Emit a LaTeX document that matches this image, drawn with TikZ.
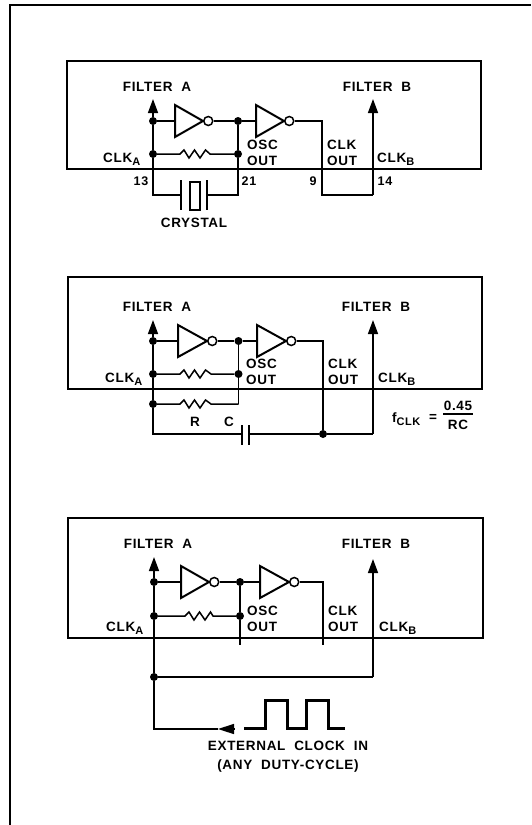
\documentclass[tikz,border=0pt]{standalone}
\usepackage{fontspec}
\setmainfont{Liberation Sans}[LetterSpace=5,WordSpace=2]
\usetikzlibrary{arrows.meta}
\usetikzlibrary{calc}
\tikzset{
  wire/.style={line width=1.5pt},
  feed/.style={wire,-{Triangle[length=14pt,width=10pt]}},
  dot/.style={circle,fill=black,inner sep=0pt,minimum size=8pt},
  bubble/.style={circle,draw,line width=1.5pt,fill=white,inner sep=0pt,minimum size=9pt},
  panel/.style={line width=2pt},
  lbl/.style={font=\bfseries\fontsize{13.5}{14}\selectfont,inner sep=0pt,text height=9.6pt,text depth=0pt},
  pin/.style={lbl,font=\bfseries\fontsize{12.5}{13}\selectfont}
}
% name, tail x, y, tip x, half height
\newcommand{\Inverter}[5]{
  \coordinate (#1in) at (#2,#3);
  \draw[line width=2pt] (#2,#3-#5) -- (#4,#3) -- (#2,#3+#5) -- cycle;
  \node[bubble,anchor=west] (#1out) at (#4,#3) {};
}
\newcommand{\Resistor}[6]{
  % from, to, start x, end x, y, name
  \coordinate (#6a) at (#3,#5);
  \coordinate (#6b) at (#4,#5);
  \draw[wire] (#1) -- (#6a)
    -- ($(#6a)+(4,-4)$) -- ($(#6a)+(9,4)$) -- ($(#6a)+(14.5,-4)$) -- ($(#6a)+(20,4)$) -- ($(#6a)+(25.5,-4)$) -- (#6b) -- (#2);
}
\newcommand{\SubA}[1]{\raisebox{-2.5pt}{\fontsize{11}{11}\selectfont #1}}
\begin{document}
\begin{tikzpicture}[x=1pt,y=-1pt]
  \useasboundingbox (0,0) rectangle (531,825);
  % Page Frame
  \draw[line width=2.4pt] (10,825) -- (10,5) -- (531,5);

  % Crystal
  \draw[panel] (67,60.5) rectangle (481,168.5);
  \node[lbl] (fa1) at (157,87) {FILTER A};
  \node[lbl] (fb1) at (377,87) {FILTER B};
  \node[dot] (j11) at (153,121) {};
  \node[dot] (j12) at (153,154) {};
  \node[dot] (j13) at (238,121) {};
  \node[dot] (j14) at (238,154) {};
  \coordinate (t1) at (153,99);
  \coordinate (b1) at (153,195);
  \coordinate (b2) at (238,195);
  \coordinate (c1) at (322,121);
  \coordinate (c2) at (322,195);
  \coordinate (c3) at (373,195);
  \coordinate (t2) at (373,99);
  \coordinate (p1) at (181,195);
  \coordinate (p2) at (207,195);
  \Inverter{i11}{175}{121}{203}{16}
  \Inverter{i12}{256}{121}{284}{16}
  \draw[feed] (j11) -- (t1);
  \draw[wire] (j11) -- (j12) -- (b1) -- (p1);
  \draw[wire] (p2) -- (b2) -- (j14) -- (j13);
  \draw[wire] (j11) -- (i11in);
  \draw[wire] (i11out) -- (j13) -- (i12in);
  \draw[wire] (i12out) -- (c1) -- (c2) -- (c3);
  \draw[feed] (c3) -- (t2);
  \Resistor{j12}{j14}{180}{210}{154}{r1}
  \draw[line width=2pt] (181,180) -- (181,210);
  \draw[line width=2pt] (207,180) -- (207,210);
  \draw[line width=1.5pt] (190,182) rectangle (200,210);
  \node[lbl] (xt) at (194,223) {CRYSTAL};
  \node[pin] (n13) at (141,181) {13};
  \node[pin] (n21) at (249,181) {21};
  \node[pin] (n9) at (313,181) {9};
  \node[pin] (n14) at (385,181) {14};
  \node[lbl,anchor=west] (ca1) at (103,158) {CLK\SubA{A}};
  \node[lbl,anchor=west] (os1) at (247,145) {OSC};
  \node[lbl,anchor=west] (ou1) at (247,161) {OUT};
  \node[lbl,anchor=west] (ck1) at (327,145) {CLK};
  \node[lbl,anchor=west] (co1) at (327,161) {OUT};
  \node[lbl,anchor=west] (cb1) at (377,158) {CLK\SubA{B}};

  % RC
  \draw[panel] (68,277) rectangle (482,388.5);
  \node[lbl] (fa2) at (157,307) {FILTER A};
  \node[lbl] (fb2) at (376,307) {FILTER B};
  \node[dot] (j21) at (153,341) {};
  \node[dot] (j22) at (153,374) {};
  \node[dot] (j23) at (153,404) {};
  \node[dot] (j24) at (238.5,341) {};
  \node[dot] (j25) at (238.5,374) {};
  \node[dot] (j26) at (323,434) {};
  \coordinate (t3) at (153,320);
  \coordinate (b3) at (153,434);
  \coordinate (b4) at (238.5,404);
  \coordinate (c4) at (323,341);
  \coordinate (c5) at (373,434);
  \coordinate (t4) at (373,320);
  \coordinate (p3) at (242,434);
  \coordinate (p4) at (249,434);
  \Inverter{i21}{178}{341}{207}{16}
  \Inverter{i22}{257}{341}{286}{16}
  \draw[feed] (j21) -- (t3);
  \draw[wire] (j21) -- (j22) -- (j23) -- (b3) -- (p3);
  \draw[wire] (p4) -- (j26) -- (c5);
  \draw[wire] (j21) -- (i21in);
  \draw[wire] (i21out) -- (j24) -- (i22in);
  \draw[wire] (j24) -- (j25) -- (b4);
  \draw[wire] (i22out) -- (c4) -- (j26);
  \draw[feed] (c5) -- (t4);
  \Resistor{j22}{j25}{180}{211}{374}{r2}
  \Resistor{j23}{b4}{180}{211}{404}{r3}
  \draw[line width=2pt] (242,425) -- (242,445);
  \draw[line width=2pt] (249,425) -- (249,445);
  \node[lbl] (rr) at (195,422) {R};
  \node[lbl] (cc) at (229,422) {C};
  \node[lbl,anchor=west] (fc) at (392,418) {f\SubA{CLK}};
  \node[lbl] (eq) at (433,417) {=};
  \node[lbl] (nu) at (458,406) {0.45};
  \node[lbl] (de) at (458,425) {RC};
  \draw[line width=1.5pt] (443,414) -- (473,414);
  \node[lbl,anchor=west] (ca2) at (105,378) {CLK\SubA{A}};
  \node[lbl,anchor=west] (os2) at (246,364) {OSC};
  \node[lbl,anchor=west] (ou2) at (246,380) {OUT};
  \node[lbl,anchor=west] (ck2) at (328,364) {CLK};
  \node[lbl,anchor=west] (co2) at (328,380) {OUT};
  \node[lbl,anchor=west] (cb2) at (378,378) {CLK\SubA{B}};

  % External Clock
  \draw[panel] (68,518) rectangle (483,638);
  \node[lbl] (fa3) at (158,544) {FILTER A};
  \node[lbl] (fb3) at (376,544) {FILTER B};
  \node[dot] (j31) at (154,582) {};
  \node[dot] (j32) at (154,616) {};
  \node[dot] (j33) at (154,677) {};
  \node[dot] (j34) at (240,582) {};
  \node[dot] (j35) at (240,616) {};
  \coordinate (t5) at (154,557);
  \coordinate (b5) at (154,729);
  \coordinate (b6) at (240,645);
  \coordinate (c6) at (323,582);
  \coordinate (c7) at (323,645);
  \coordinate (c8) at (373,677);
  \coordinate (t6) at (373,559);
  \coordinate (a1) at (218,729);
  \coordinate (a2) at (234,729);
  \Inverter{i31}{181}{582}{209}{16}
  \Inverter{i32}{260}{582}{289}{16}
  \draw[feed] (j31) -- (t5);
  \draw[wire] (j31) -- (j32) -- (j33) -- (b5) -- (a1);
  \draw[wire] (j31) -- (i31in);
  \draw[wire] (i31out) -- (j34) -- (i32in);
  \draw[wire] (j34) -- (j35) -- (b6);
  \draw[wire] (i32out) -- (c6) -- (c7);
  \draw[wire] (j33) -- (c8);
  \draw[feed] (c8) -- (t6);
  \Resistor{j32}{j35}{185}{213}{616}{r4}
  \draw[-{Triangle[length=16pt,width=10pt]},wire] (a2) -- (a1);
  \draw[line width=3pt] (244,728) -- (265,728) -- (265,700) -- (287,700) -- (287,728) -- (306,728) -- (306,700) -- (328,700) -- (328,728) -- (345,728);
  \node[lbl] (ex) at (288,746) {EXTERNAL CLOCK IN};
  \node[lbl] (du) at (288,765) {(ANY DUTY-CYCLE)};
  \node[lbl,anchor=west] (ca3) at (106,627) {CLK\SubA{A}};
  \node[lbl,anchor=west] (os3) at (247,611) {OSC};
  \node[lbl,anchor=west] (ou3) at (247,627) {OUT};
  \node[lbl,anchor=west] (ck3) at (328,611) {CLK};
  \node[lbl,anchor=west] (co3) at (328,627) {OUT};
  \node[lbl,anchor=west] (cb3) at (379,627) {CLK\SubA{B}};
\end{tikzpicture}
\end{document}
